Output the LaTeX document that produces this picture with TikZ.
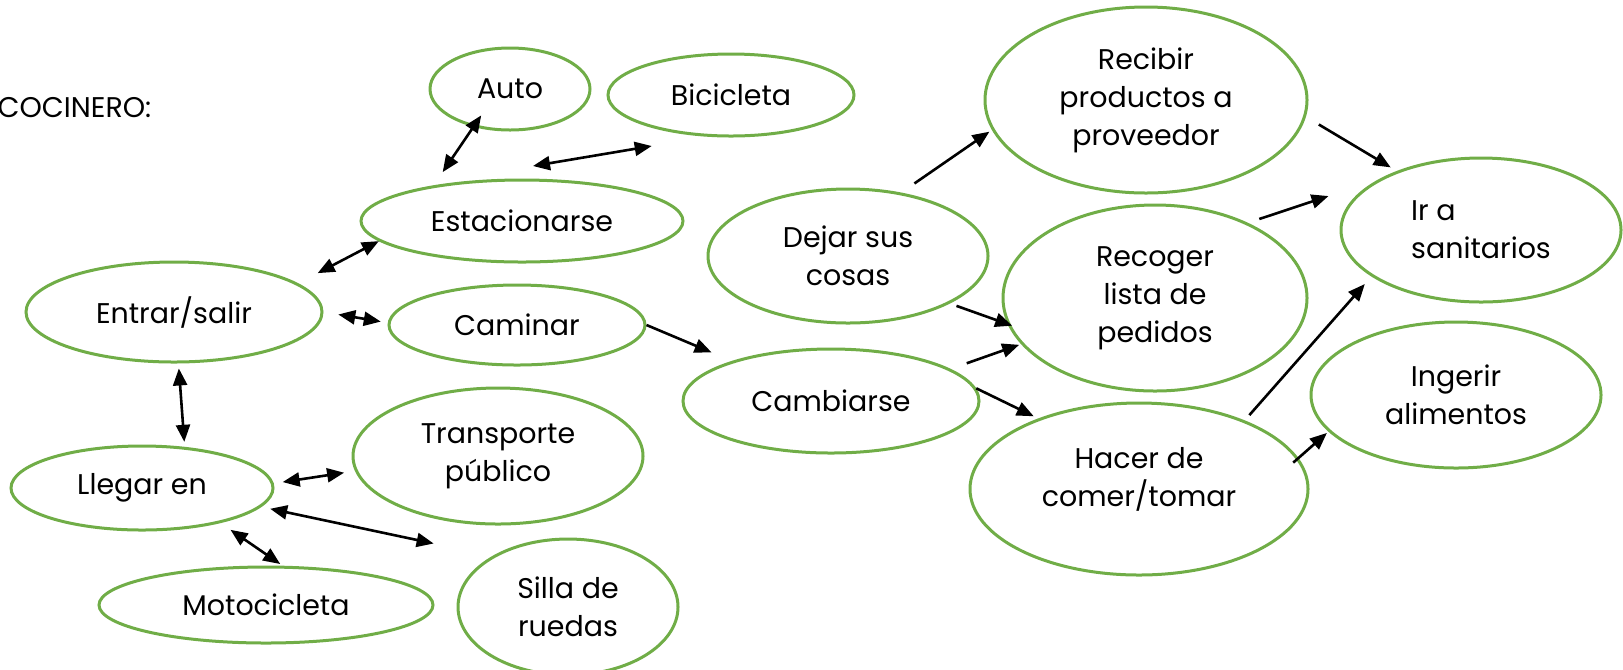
\documentclass[tikz,border=0pt]{standalone}
\usepackage{fontspec}
\setmainfont{Poppins}
\usetikzlibrary{arrows.meta, shapes.geometric}

\definecolor{leafgreen}{RGB}{112,173,71}

\begin{document}
\begin{tikzpicture}[
    bubble/.style={ellipse, draw=leafgreen, line width=0.03cm, inner sep=0pt, align=center, font=\fontsize{8.1}{10.8}\selectfont},
    link/.style={line width=0.026cm, -{Triangle[length=1.7mm, width=1.4mm]}},
    dlink/.style={line width=0.026cm, {Triangle[length=1.7mm, width=1.4mm]}-{Triangle[length=1.7mm, width=1.4mm]}}]
    \useasboundingbox (0,0) rectangle (16.23,-6.69);

    % Title
    \node[anchor=east, inner sep=0pt, font=\fontsize{8.1}{10.8}\selectfont] (title) at (1.52,-1.08) {COCINERO:};

    % Getting there
    \node[bubble, minimum width=1.60cm, minimum height=0.82cm] (auto) at (5.10,-0.89) {Auto};
    \node[bubble, minimum width=2.46cm, minimum height=0.82cm] (bici) at (7.31,-0.95) {Bicicleta};
    \node[bubble, minimum width=3.22cm, minimum height=0.82cm] (estac) at (5.22,-2.21) {Estacionarse};
    \node[bubble, minimum width=2.96cm, minimum height=1.00cm] (entrar) at (1.74,-3.12) {Entrar/salir};
    \node[bubble, minimum width=2.56cm, minimum height=0.80cm] (caminar) at (5.17,-3.25) {Caminar};
    \node[bubble, minimum width=2.62cm, minimum height=0.84cm] (llegar) at (1.42,-4.88) {Llegar en};
    \node[bubble, minimum width=2.90cm, minimum height=1.36cm] (transp) at (4.98,-4.56) {Transporte\\público};
    \node[bubble, minimum width=3.34cm, minimum height=0.76cm] (moto) at (2.66,-6.05) {Motocicleta};
    \node[bubble, minimum width=2.20cm, minimum height=1.36cm] (silla) at (5.68,-6.07) {Silla de\\ruedas};
    \coordinate (bicitip) at (5.33,-1.66);

    % At work
    \node[bubble, minimum width=2.80cm, minimum height=1.34cm] (dejar) at (8.48,-2.56) {Dejar sus\\cosas};
    \node[bubble, minimum width=2.96cm, minimum height=1.04cm] (cambiarse) at (8.31,-4.01) {Cambiarse};
    \node[bubble, minimum width=3.22cm, minimum height=1.86cm] (recibir) at (11.46,-1.00) {Recibir\\productos a\\proveedor};
    \node[bubble, minimum width=3.04cm, minimum height=1.86cm] (recoger) at (11.55,-2.98) {Recoger\\lista de\\pedidos};
    \node[bubble, minimum width=3.38cm, minimum height=1.72cm, text depth=0.24cm] (hacer) at (11.39,-4.89) {Hacer de\\comer/tomar};
    \node[bubble, minimum width=2.80cm, minimum height=1.44cm, align=left] (ir) at (14.81,-2.30) {Ir a\\sanitarios};
    \node[bubble, minimum width=2.90cm, minimum height=1.46cm] (ingerir) at (14.56,-3.95) {Ingerir\\alimentos};

    % Links
    \draw[dlink, shorten <=-0.14cm, shorten >=0.16cm] (auto.-134) -- (estac.158);
    \draw[dlink, shorten <=0.56cm] (bici.-120) -- (bicitip);
    \draw[dlink, shorten >=0.22cm] (estac.-172) -- (entrar.13);
    \draw[dlink, shorten <=0.15cm, shorten >=0.07cm] (entrar.0) -- (caminar.179);
    \draw[link, shorten >=0.22cm] (caminar.0) -- (cambiarse.158);
    \draw[dlink, shorten <=0.05cm, shorten >=0.05cm] (entrar.-85) -- (llegar.44);
    \draw[dlink, shorten <=0.09cm, shorten >=0.11cm] (llegar.2) -- (transp.186);
    \draw[dlink, shorten <=0.09cm, shorten >=0.60cm] (llegar.-9) -- (silla.146);
    \draw[dlink, shorten <=0.12cm, shorten >=0.03cm] (llegar.-24) -- (moto.67);
    \draw[link, shorten <=0.16cm, shorten >=0.03cm] (dejar.50) -- (recibir.191);
    \draw[link, shorten <=0.15cm, shorten >=0.07cm] (recibir.-6) -- (ir.145);
    \draw[link, shorten <=0.12cm, shorten >=0.52cm] (recoger.39) -- (ir.154);
    \draw[link, shorten <=0.07cm, shorten >=-0.05cm] (dejar.-25) -- (recoger.190);
    \draw[link, shorten <=0.07cm, shorten >=0.10cm] (hacer.33) -- (ir.203);
    \draw[link, shorten <=0.17cm, shorten >=0.02cm] (cambiarse.15) -- (recoger.199);
    \draw[link, shorten >=0.05cm] (cambiarse.5) -- (hacer.145);
    \draw[link, shorten <=-0.07cm, shorten >=0.02cm] (hacer.11) -- (ingerir.196);
\end{tikzpicture}
\end{document}
